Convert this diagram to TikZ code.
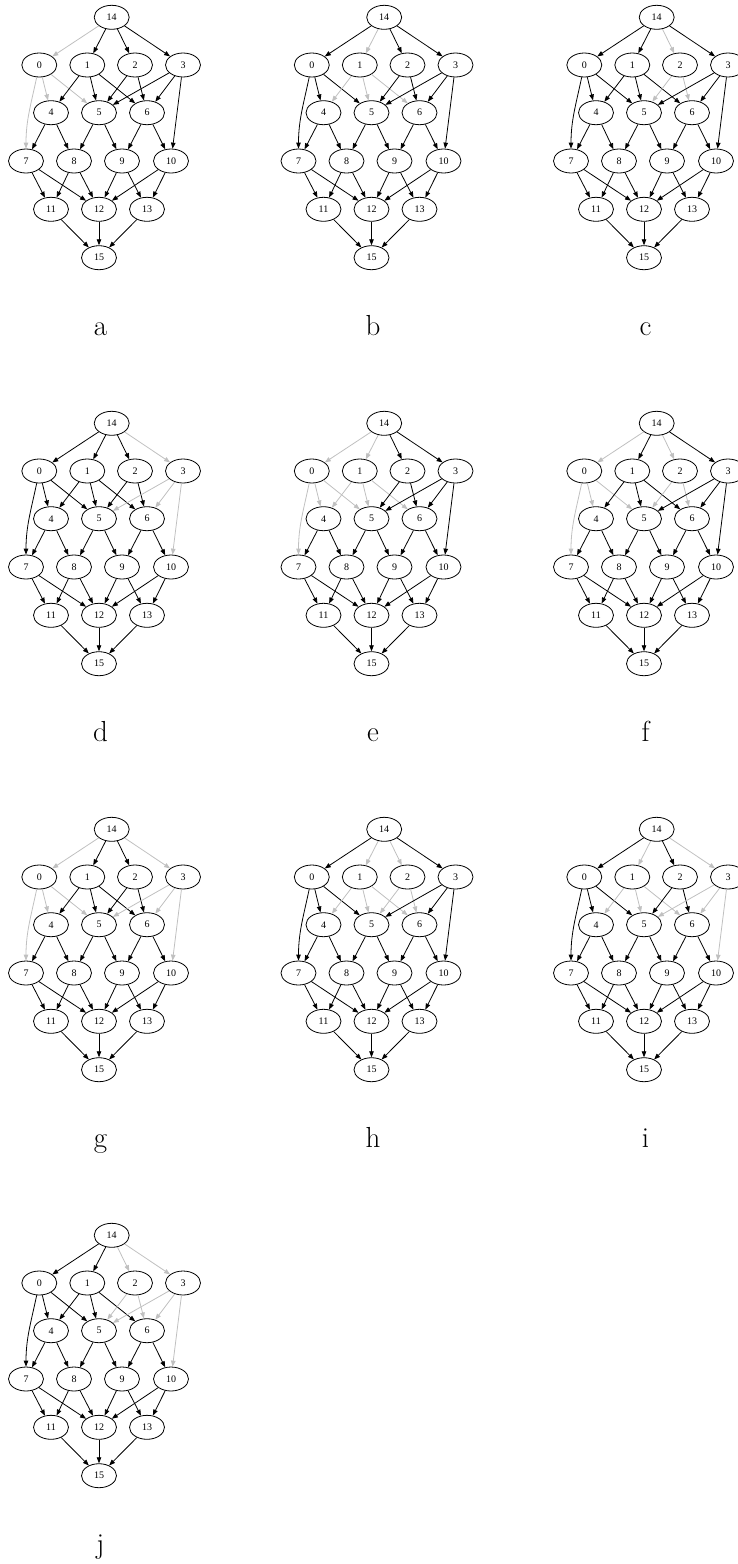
\documentclass[tikz,border=0pt]{standalone}
\usepackage{fontspec}
\newfontfamily\dotfont{Liberation Serif}
\usetikzlibrary{arrows.meta,shapes.geometric}
\definecolor{fadedge}{RGB}{192,192,192}
\tikzset{g0/.style={},g1/.style={},g2/.style={},g3/.style={}}

% one lattice; #1 name, #2 shift, #3 faded vertices
\newcommand{\dagpanel}[3]{%
\begin{scope}[shift={(#2)},#3]
\node[vtx] (#1-14) at (111.7,17.3) {14};
\node[vtx] (#1-0) at (39.3,65) {0};
\node[vtx] (#1-1) at (87.3,65) {1};
\node[vtx] (#1-2) at (135,65) {2};
\node[vtx] (#1-3) at (183,65) {3};
\node[vtx] (#1-4) at (51,112.7) {4};
\node[vtx] (#1-5) at (99,112.7) {5};
\node[vtx] (#1-6) at (147,112.7) {6};
\node[vtx] (#1-7) at (26,161) {7};
\node[vtx] (#1-8) at (74,161) {8};
\node[vtx] (#1-9) at (122,161) {9};
\node[vtx] (#1-10) at (171,161) {10};
\node[vtx] (#1-11) at (51,209.3) {11};
\node[vtx] (#1-12) at (99,209.3) {12};
\node[vtx] (#1-13) at (147,209.3) {13};
\node[vtx] (#1-15) at (99,257.7) {15};
\foreach \dst in {0,1,2,3}
  \draw[edge,g\dst] (#1-14) -- (#1-\dst);
\foreach \src/\dst in {0/4,0/5,1/4,1/5,1/6,2/5,2/6,3/5,3/6,3/10}
  \draw[edge,g\src] (#1-\src) -- (#1-\dst);
\draw[edge,g0] (#1-0) to[out=-102,in=90] (#1-7);
\foreach \src/\dst in {4/7,4/8,5/8,5/9,6/9,6/10,7/11,7/12,8/11,8/12,9/12,9/13,10/12,10/13,11/15,12/15,13/15}
  \draw[edge] (#1-\src) -- (#1-\dst);
\node[caption] (#1-cap) at (100.5,335) {#1};
\end{scope}}

\begin{document}
\begin{tikzpicture}[x=1pt,y=-1pt,
  vtx/.style={draw,ellipse,line width=0.8pt,minimum width=35pt,minimum height=24pt,inner sep=0pt,font=\dotfont\fontsize{10}{12}\selectfont},
  edge/.style={line width=0.8pt,-{Triangle[length=6pt,width=4.5pt]}},
  faded/.style={draw=fadedge},
  caption/.style={anchor=base,inner sep=0pt,font=\fontsize{29}{34}\selectfont}]
\useasboundingbox (0,0) rectangle (738,1564);

\dagpanel{a}{0,0}{g0/.style=faded}
\dagpanel{b}{272.5,0}{g1/.style=faded}
\dagpanel{c}{545,0}{g2/.style=faded}

\dagpanel{d}{0,406}{g3/.style=faded}
\dagpanel{e}{272.5,406}{g0/.style=faded,g1/.style=faded}
\dagpanel{f}{545,406}{g0/.style=faded,g2/.style=faded}

\dagpanel{g}{0,812}{g0/.style=faded,g3/.style=faded}
\dagpanel{h}{272.5,812}{g1/.style=faded,g2/.style=faded}
\dagpanel{i}{545,812}{g1/.style=faded,g3/.style=faded}

\dagpanel{j}{0,1218}{g2/.style=faded,g3/.style=faded}
\end{tikzpicture}
\end{document}
